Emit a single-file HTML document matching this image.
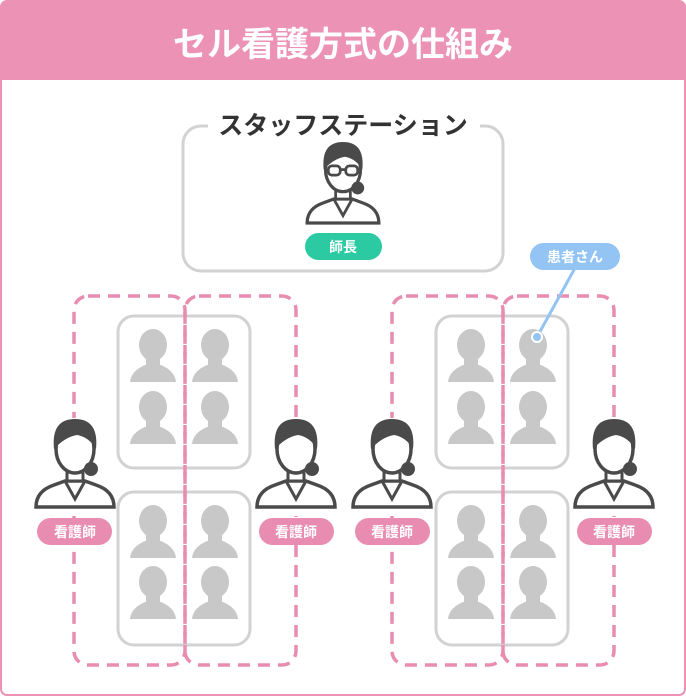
<!DOCTYPE html>
<html><head><meta charset="utf-8"><style>
body{margin:0;background:#fff;}
svg{display:block;font-family:"Liberation Sans","Noto Sans CJK JP",sans-serif;}
</style></head><body>
<svg width="686" height="697" viewBox="0 0 686 697">
<defs>
<g id="pt" fill="#c8c8c8">
 <ellipse cx="0" cy="14" rx="14" ry="16"/>
 <rect x="-7" y="22" width="14" height="14"/>
 <path d="M-23 51 Q-22 40 -8 34 L8 34 Q22 40 23 51 Z"/>
</g>
<g id="nurse">
 <path d="M-39 88 Q-39 72 -21 66 L-10 62 L10 62 L21 66 Q39 72 39 88 Z" fill="#fff" stroke="#4a4a4a" stroke-width="3.5"/>
 <path d="M-10 62 L0 80 L10 62" fill="none" stroke="#4a4a4a" stroke-width="3"/>
 <path d="M-8 48 L-8 62 L8 62 L8 48 Z" fill="#fff" stroke="#4a4a4a" stroke-width="3"/>
 <ellipse cx="0" cy="30" rx="19" ry="24" fill="#fff" stroke="#4a4a4a" stroke-width="3.5"/>
 <circle cx="16" cy="50" r="7" fill="#4a4a4a"/>
 <path d="M-21 30 Q-24 0 0 0 Q24 0 21 30 Q14 18 2 16 Q-10 18 -21 30 Z" fill="#4a4a4a"/>
</g>
</defs>
<rect x="1" y="1" width="684" height="694" rx="6" fill="#fff" stroke="#eb92b5" stroke-width="2"/>
<path d="M1 80 V7 Q1 1 7 1 H679 Q685 1 685 7 V80 Z" fill="#eb92b5"/>
<text x="343" y="56" text-anchor="middle" font-size="34" font-weight="bold" fill="#fff">セル看護方式の仕組み</text>

<rect x="183" y="126" width="320" height="145" rx="18" fill="none" stroke="#d2d2d2" stroke-width="3"/>
<rect x="208" y="108" width="272" height="34" fill="#fff"/>
<text x="343" y="134" text-anchor="middle" font-size="25" font-weight="bold" fill="#333">スタッフステーション</text>
<g transform="translate(343,142) scale(0.92)">
 <use href="#nurse"/>
 <g fill="none" stroke="#4a4a4a" stroke-width="3"><rect x="-16" y="26" width="13" height="10" rx="4"/><rect x="3" y="26" width="13" height="10" rx="4"/><path d="M-3 30 H3"/></g>
</g>
<rect x="305" y="233" width="77" height="27" rx="13.5" fill="#2ccaa2"/>
<text x="343" y="252" text-anchor="middle" font-size="14" font-weight="bold" fill="#fff">師長</text>

<g stroke="#d2d2d2" stroke-width="3" fill="none">
 <rect x="118" y="316" width="132" height="152" rx="16"/>
 <rect x="118" y="492" width="132" height="153" rx="16"/>
 <rect x="436" y="316" width="132" height="152" rx="16"/>
 <rect x="436" y="492" width="132" height="153" rx="16"/>
</g>
<g>
 <use href="#pt" x="153" y="331"/><use href="#pt" x="215" y="331"/>
 <use href="#pt" x="153" y="393"/><use href="#pt" x="215" y="393"/>
 <use href="#pt" x="153" y="507"/><use href="#pt" x="215" y="507"/>
 <use href="#pt" x="153" y="568"/><use href="#pt" x="215" y="568"/>
 <use href="#pt" x="471" y="331"/><use href="#pt" x="533" y="331"/>
 <use href="#pt" x="471" y="393"/><use href="#pt" x="533" y="393"/>
 <use href="#pt" x="471" y="507"/><use href="#pt" x="533" y="507"/>
 <use href="#pt" x="471" y="568"/><use href="#pt" x="533" y="568"/>
</g>
<g stroke="#e88db1" stroke-width="3.5" fill="none" stroke-dasharray="12 8">
 <rect x="74" y="296" width="111" height="369" rx="14"/>
 <rect x="185" y="296" width="111" height="369" rx="14"/>
 <rect x="392" y="296" width="111" height="369" rx="14"/>
 <rect x="503" y="296" width="111" height="369" rx="14"/>
</g>
<g fill="#fff"><rect x="34" y="418" width="82" height="98"/><rect x="255" y="418" width="82" height="98"/><rect x="352" y="418" width="82" height="98"/><rect x="573" y="418" width="82" height="98"/></g>
<use href="#nurse" x="75" y="419"/>
<use href="#nurse" x="296" y="419"/>
<use href="#nurse" x="392" y="419"/>
<use href="#nurse" x="614" y="419"/>
<g fill="#e88db1">
 <rect x="37" y="518" width="75" height="27" rx="13.5"/>
 <rect x="259" y="518" width="75" height="27" rx="13.5"/>
 <rect x="355" y="518" width="75" height="27" rx="13.5"/>
 <rect x="577" y="518" width="75" height="27" rx="13.5"/>
</g>
<g fill="#fff" font-size="14" font-weight="bold" text-anchor="middle">
 <text x="75" y="537">看護師</text><text x="296" y="537">看護師</text>
 <text x="392" y="537">看護師</text><text x="614" y="537">看護師</text>
</g>
<line x1="575" y1="268" x2="537" y2="337" stroke="#93c4f4" stroke-width="3"/>
<circle cx="537" cy="337" r="5" fill="#93c4f4" stroke="#fff" stroke-width="2"/>
<rect x="530" y="243" width="90" height="27" rx="13.5" fill="#93c4f4"/>
<text x="575" y="262" text-anchor="middle" font-size="14" font-weight="bold" fill="#fff">患者さん</text>
</svg>
</body></html>
